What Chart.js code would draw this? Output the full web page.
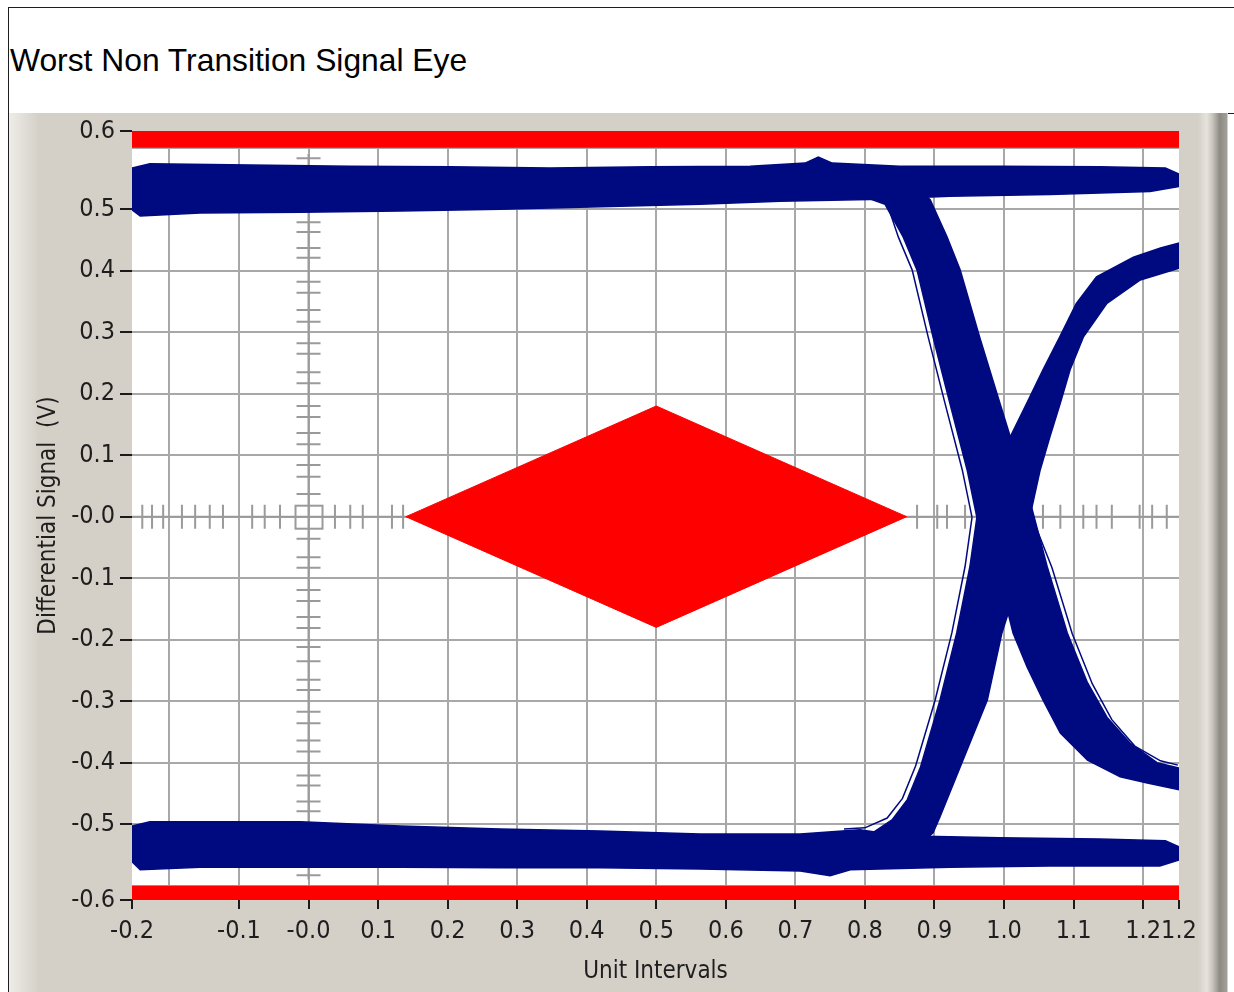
<!DOCTYPE html>
<html>
<head>
<meta charset="utf-8">
<script src="https://cdn.jsdelivr.net/npm/chart.js@4.4.1/dist/chart.umd.min.js"></script>
<style>
html, body { margin:0; padding:0; width:1234px; height:992px; overflow:hidden; background:#ffffff; }
#titlebox { position:absolute; left:8px; top:7px; width:1240px; height:105px; border:1px solid #1e1e1e; border-right:none; background:#fff; }
#titletext { position:absolute; left:10px; top:45px; font-family:'Liberation Sans', Arial, sans-serif; font-size:31.8px; line-height:1; color:#000; white-space:nowrap; }
#panel { position:absolute; left:8px; top:113px; width:1219px; height:879px; border-left:1px solid #1e1e1e; background:#d4d0c8; }
#panelLeft { position:absolute; left:9px; top:113px; width:30px; height:879px; background:linear-gradient(to right, #efede8 0%, #d4d0c8 100%); }
#panelRight { position:absolute; left:1198px; top:113px; width:29px; height:879px; background:linear-gradient(to right, #d4d0c8 0%, #e6e3dd 30%, #c9c5be 50%, #8d8a84 75%, #a3a09a 100%); }
#wrap { position:absolute; left:0; top:0; width:1234px; height:992px; }
</style>
</head>
<body>
<div id="titlebox"></div>
<div id="titletext">Worst Non Transition Signal Eye</div>
<div id="panel"></div>
<div id="panelLeft"></div>
<div id="panelRight"></div>
<div id="wrap"><canvas id="c" width="1234" height="992"></canvas></div>
<script>
// ---------- axis ticks ----------
const xTickVals   = [-0.2538, -0.2, -0.1, 0, 0.1, 0.2, 0.3, 0.4, 0.5, 0.6, 0.7, 0.8, 0.9, 1.0, 1.1, 1.2, 1.2516];
const xTickLabels = ['-0.2', '', '-0.1', '-0.0', '0.1', '0.2', '0.3', '0.4', '0.5', '0.6', '0.7', '0.8', '0.9', '1.0', '1.1', '1.2', '1.2'];
const yTickVals   = [-0.6233, -0.6, -0.5, -0.4, -0.3, -0.2, -0.1, 0, 0.1, 0.2, 0.3, 0.4, 0.5, 0.6, 0.6272];
const yTickLabels = ['-0.6', '', '-0.5', '-0.4', '-0.3', '-0.2', '-0.1', '-0.0', '0.1', '0.2', '0.3', '0.4', '0.5', '', '0.6'];

// ---------- eye traces (outlines of the overlaid waveform bands) ----------
const upperRailX = [-0.254, -0.228, -0.084, 0.060, 0.204, 0.347, 0.491, 0.635, 0.714, 0.733, 0.753, 0.850, 0.994, 1.138, 1.232, 1.252,
                    1.252, 1.210, 1.066, 0.922, 0.807, 0.678, 0.563, 0.419, 0.276, 0.132, -0.012, -0.156, -0.242, -0.254];
const upperRailY = [0.567, 0.574, 0.572, 0.570, 0.569, 0.567, 0.569, 0.570, 0.575, 0.585, 0.575, 0.570, 0.570, 0.569, 0.567, 0.557,
                    0.537, 0.529, 0.524, 0.521, 0.516, 0.513, 0.508, 0.504, 0.500, 0.497, 0.495, 0.494, 0.489, 0.499];

const lowerRailX = [-0.254, -0.228, -0.012, 0.132, 0.276, 0.419, 0.563, 0.707, 0.793, 0.850, 0.994, 1.138, 1.232, 1.252,
                    1.252, 1.224, 1.066, 0.922, 0.779, 0.750, 0.707, 0.563, 0.419, 0.276, 0.132, -0.012, -0.156, -0.242, -0.254];
const lowerRailY = [-0.503, -0.496, -0.496, -0.503, -0.508, -0.511, -0.516, -0.516, -0.509, -0.519, -0.522, -0.524, -0.527, -0.537,
                    -0.558, -0.568, -0.568, -0.570, -0.574, -0.584, -0.576, -0.573, -0.571, -0.571, -0.570, -0.570, -0.570, -0.574, -0.561];

const fallingX = [0.800, 0.829, 0.855, 0.875, 0.898, 0.922, 0.947, 0.961, 0.987, 1.006, 1.013, 1.033, 1.056, 1.081, 1.120, 1.167, 1.206, 1.252,
                  1.252, 1.220, 1.181, 1.148, 1.120, 1.091, 1.062, 1.037, 1.009, 0.994, 0.965, 0.937, 0.918, 0.894, 0.887];
const fallingY = [0.520, 0.508, 0.455, 0.401, 0.292, 0.185, 0.076, -0.001, -0.087, -0.157, -0.189, -0.244, -0.298, -0.352, -0.396, -0.423, -0.433, -0.444,
                  -0.409, -0.400, -0.368, -0.326, -0.270, -0.189, -0.081, 0.027, 0.130, 0.185, 0.292, 0.401, 0.455, 0.515, 0.523];

const risingX = [0.779, 0.811, 0.839, 0.861, 0.880, 0.908, 0.932, 0.951, 0.961, 0.980, 1.009, 1.033, 1.056, 1.080, 1.104, 1.133, 1.186, 1.225, 1.252,
                 1.252, 1.196, 1.148, 1.114, 1.095, 1.081, 1.066, 1.052, 1.037, 1.019, 1.006, 0.997, 0.976, 0.937, 0.908, 0.898, 0.887];
const risingY = [-0.525, -0.514, -0.493, -0.460, -0.407, -0.298, -0.189, -0.081, -0.001, 0.068, 0.130, 0.185, 0.239, 0.292, 0.347, 0.390, 0.422, 0.437, 0.445,
                 0.404, 0.385, 0.347, 0.292, 0.239, 0.185, 0.130, 0.076, -0.001, -0.081, -0.157, -0.189, -0.298, -0.407, -0.488, -0.514, -0.525];

// stray single traces running just outside the bands
const fallStrayX = [0.805, 0.832, 0.848, 0.868, 0.891, 0.915, 0.940, 0.954];
const fallStrayY = [0.522, 0.509, 0.455, 0.401, 0.292, 0.185, 0.076, -0.001];
const riseStrayX = [0.770, 0.800, 0.832, 0.854, 0.873, 0.901, 0.925, 0.944, 0.954];
const riseStrayY = [-0.508, -0.506, -0.490, -0.458, -0.405, -0.298, -0.189, -0.081, -0.001];
const tailStrayX = [1.040, 1.069, 1.098, 1.127, 1.155, 1.188, 1.225, 1.250];
const tailStrayY = [0.000, -0.083, -0.190, -0.272, -0.330, -0.373, -0.397, -0.404];

// ---------- mask (eye diagram mask, limits) ----------
const maskX = [0.14, 0.50, 0.86, 0.50, 0.14];
const maskY = [0.00, 0.18, 0.00, -0.18, 0.00];
const limitHigh = 0.6;
const limitLow = -0.6;
const axisX = [-0.2538, 1.2516];
const axisY = [-0.6233, 0.6272];

// ---------- cursor crosshair ----------
const cursorXTicks = [-0.239, -0.225, -0.209, -0.182, -0.163, -0.142, -0.123, -0.081, -0.063, -0.041, 0.038, 0.060, 0.078, 0.120, 0.136,
                      0.875, 0.904, 0.918, 0.944, 1.056, 1.081, 1.114, 1.133, 1.155, 1.195, 1.213, 1.234];
const cursorYTicks = [0.583, 0.479, 0.463, 0.437, 0.421, 0.382, 0.364, 0.336, 0.317, 0.282, 0.265, 0.235, 0.217, 0.180, 0.162, 0.136, 0.118, 0.084, 0.065, 0.037,
                      -0.036, -0.066, -0.083, -0.119, -0.137, -0.163, -0.181, -0.212, -0.235, -0.265, -0.282, -0.317, -0.336, -0.364, -0.382, -0.421, -0.437, -0.463, -0.479, -0.583];
const cursorYSpan = [-0.59, 0.59];

const NAVY = '#000a80';
const RED = '#ff0000';
const GRID = '#a8a8a8';
const CURSOR = '#9a9a9a';
const NARROW = "'Liberation Sans Narrow', 'Arial Narrow', 'DejaVu Sans Condensed', sans-serif";

const pts = (xs, ys) => xs.map((x, i) => ({ x: x, y: ys[i] }));

function band(xs, ys) {
  return { data: pts(xs, ys), fill: 'shape', backgroundColor: NAVY, borderColor: NAVY, borderWidth: 1.5,
           pointRadius: 0, tension: 0 };
}
function stray(xs, ys) {
  return { data: pts(xs, ys), fill: false, borderColor: NAVY, borderWidth: 1.5, pointRadius: 0, tension: 0 };
}

const plotBg = {
  id: 'plotBg',
  beforeDraw(chart) {
    const { ctx, chartArea: a } = chart;
    ctx.save();
    ctx.fillStyle = '#ffffff';
    ctx.fillRect(a.left, a.top, a.right - a.left, a.bottom - a.top);
    ctx.restore();
  }
};

const cursorPlugin = {
  id: 'cursorPlugin',
  beforeDatasetsDraw(chart) {
    const { ctx, scales: { x, y } } = chart;
    const x0 = x.getPixelForValue(0), y0 = y.getPixelForValue(0);
    ctx.save();
    ctx.strokeStyle = CURSOR;
    ctx.lineWidth = 2;
    ctx.beginPath();
    ctx.moveTo(x.getPixelForValue(axisX[0]), y0);
    ctx.lineTo(x.getPixelForValue(axisX[1]), y0);
    ctx.moveTo(x0, y.getPixelForValue(cursorYSpan[1]));
    ctx.lineTo(x0, y.getPixelForValue(cursorYSpan[0]));
    cursorXTicks.forEach(v => { const px = x.getPixelForValue(v); ctx.moveTo(px, y0 - 12); ctx.lineTo(px, y0 + 12); });
    cursorYTicks.forEach(v => { const py = y.getPixelForValue(v); ctx.moveTo(x0 - 12, py); ctx.lineTo(x0 + 12, py); });
    ctx.stroke();
    ctx.strokeRect(x0 - 13, y0 - 11, 27, 23);
    ctx.restore();
  }
};

new Chart(document.getElementById('c'), {
  type: 'line',
  data: {
    datasets: [
      { data: pts(maskX, maskY), fill: 'shape', backgroundColor: RED, borderColor: RED, borderWidth: 1, pointRadius: 0, tension: 0 },
      { data: pts(axisX, [limitHigh, limitHigh]), fill: 'end', backgroundColor: RED, borderColor: RED, borderWidth: 0, pointRadius: 0 },
      { data: pts(axisX, [limitLow, limitLow]), fill: 'start', backgroundColor: RED, borderColor: RED, borderWidth: 0, pointRadius: 0 },
      band(fallingX, fallingY),
      band(risingX, risingY),
      band(upperRailX, upperRailY),
      band(lowerRailX, lowerRailY),
      stray(fallStrayX, fallStrayY),
      stray(riseStrayX, riseStrayY),
      stray(tailStrayX, tailStrayY)
    ]
  },
  options: {
    responsive: false,
    maintainAspectRatio: false,
    devicePixelRatio: 1,
    animation: false,
    events: [],
    layout: { padding: { left: 20, right: 55, top: 131, bottom: 0 } },
    plugins: { legend: { display: false }, tooltip: { enabled: false }, title: { display: false } },
    scales: {
      x: {
        type: 'linear',
        min: axisX[0], max: axisX[1],
        afterBuildTicks: s => { s.ticks = xTickVals.map(v => ({ value: v })); },
        afterFit: s => { s.height = 92; },
        border: { display: false },
        grid: {
          color: c => (c.index === 0 || c.index === xTickVals.length - 1) ? 'rgba(0,0,0,0)' : GRID,
          lineWidth: 2,
          tickColor: c => (xTickLabels[c.index] === '') ? 'rgba(0,0,0,0)' : '#1a1a1a',
          tickLength: 9, tickWidth: 2
        },
        ticks: {
          autoSkip: false, maxRotation: 0, padding: 7,
          color: '#1e1e1e',
          font: { family: NARROW, size: 25 },
          callback: (v, i) => xTickLabels[i]
        },
        title: { display: true, text: 'Unit Intervals', color: '#1e1e1e', font: { family: NARROW, size: 24 }, padding: { top: 0, bottom: 6 } }
      },
      y: {
        type: 'linear',
        min: axisY[0], max: axisY[1],
        afterBuildTicks: s => { s.ticks = yTickVals.map(v => ({ value: v })); },
        afterFit: s => { s.width = 112; },
        border: { display: false },
        grid: {
          color: c => (c.index === 0 || c.index === yTickVals.length - 1) ? 'rgba(0,0,0,0)' : GRID,
          lineWidth: 2,
          tickColor: c => (yTickLabels[c.index] === '') ? 'rgba(0,0,0,0)' : '#1a1a1a',
          tickLength: 12, tickWidth: 2
        },
        ticks: {
          autoSkip: false, padding: 5,
          color: '#1e1e1e',
          font: { family: NARROW, size: 25 },
          callback: (v, i) => yTickLabels[i]
        },
        title: { display: true, text: 'Differential Signal  (V)', color: '#1e1e1e', font: { family: NARROW, size: 24 }, padding: { top: 14, bottom: 0 } }
      }
    }
  },
  plugins: [plotBg, cursorPlugin]
});
</script>
</body>
</html>
